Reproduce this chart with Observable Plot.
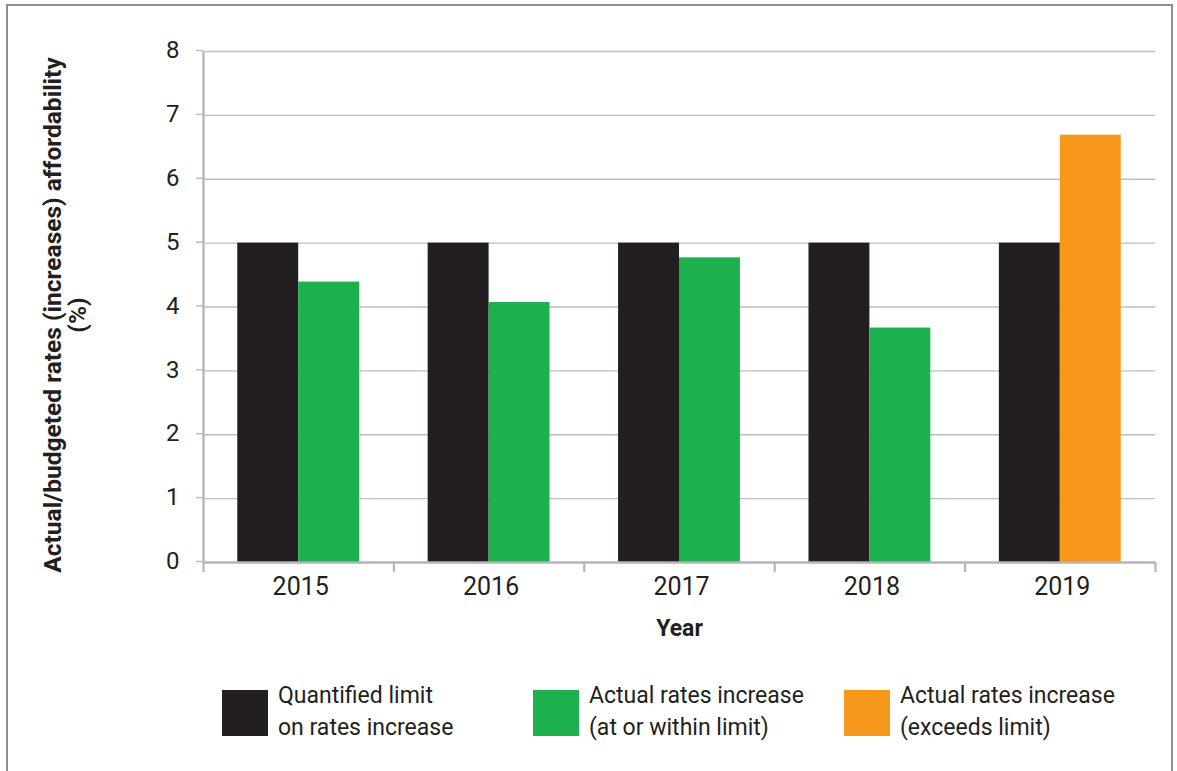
<!DOCTYPE html>
<html>
<head>
<meta charset="utf-8">
<script src="https://cdn.jsdelivr.net/npm/d3@7"></script>
<script src="https://cdn.jsdelivr.net/npm/@observablehq/plot@0.6"></script>
<style>
  html, body { margin: 0; padding: 0; background: #fff; overflow: hidden; }
  body { width: 1177px; height: 771px; position: relative; font-family: Roboto, sans-serif; color: #231f20; }
  #frame { position: absolute; left: 6px; top: 4px; width: 1163px; height: 820px; border: 2px solid #8f8f8f; box-sizing: content-box; }
  #chart { position: absolute; left: 0; top: 0; }
  #legend { position: absolute; left: 222px; top: 680px; display: flex; }
  .item { width: 311px; display: flex; align-items: flex-start; }
  .swatch { width: 46px; height: 46px; margin-top: 10px; margin-right: 10px; flex: none; }
  .label { font-size: 23px; line-height: 32px; white-space: pre; color: #231f20; }
</style>
</head>
<body>
<div id="frame"></div>
<div id="chart"></div>
<div id="legend"></div>
<script>
// ---- data ----
const years = [2015, 2016, 2017, 2018, 2019];
const limitValues = [5, 5, 5, 5, 5];
const actualValues = [4.39, 4.07, 4.77, 3.67, 6.69];
const seriesNames = [
  "Quantified limit\non rates increase",
  "Actual rates increase\n(at or within limit)",
  "Actual rates increase\n(exceeds limit)"
];
const seriesColors = ["#231f20", "#1db04e", "#f7981d"];
const yTicks = [0, 1, 2, 3, 4, 5, 6, 7, 8];
const yTitle = "Actual/budgeted rates (increases) affordability\n(%)";
const xTitle = "Year";

// ---- table built from the arrays ----
const rows = [];
years.forEach((year, i) => {
  rows.push({year, slot: "limit", value: limitValues[i], series: seriesNames[0]});
  rows.push({year, slot: "actual", value: actualValues[i],
    series: actualValues[i] > limitValues[i] ? seriesNames[2] : seriesNames[1]});
});
const boundaries = years.map(y => y - 0.5).concat([years[years.length - 1] + 0.5]);

const barW = 0.32;
const gridColor = "#bcbec0";
const axisColor = "#b3b5b8";
const ink = "#231f20";

const chart = Plot.plot({
  width: 1177,
  height: 660,
  marginLeft: 203,
  marginRight: 22,
  marginTop: 51,
  marginBottom: 98,
  style: {fontFamily: "Roboto, sans-serif", color: ink, background: "transparent"},
  x: {type: "linear", domain: [boundaries[0], boundaries[boundaries.length - 1]]},
  y: {domain: [0, 8]},
  color: {domain: seriesNames, range: seriesColors},
  marks: [
    Plot.ruleY(yTicks.filter(t => t > 0), {stroke: gridColor, strokeWidth: 1.4}),
    Plot.rect(rows, {
      x1: d => d.slot === "limit" ? d.year - barW : d.year,
      x2: d => d.slot === "limit" ? d.year : d.year + barW,
      y1: d => 0,
      y2: "value",
      fill: "series"
    }),
    Plot.ruleX([boundaries[0]], {stroke: axisColor, strokeWidth: 2.3}),
    Plot.ruleY([0], {stroke: axisColor, strokeWidth: 2.6}),
    Plot.axisY({ticks: yTicks, tickSize: 7, tickPadding: 17, stroke: gridColor, strokeWidth: 1.5,
      fill: ink, fontSize: 24, label: null, tickFormat: d => String(d), dy: -1}),
    Plot.axisX({ticks: boundaries, tickSize: 10, tickFormat: () => "", stroke: axisColor, strokeWidth: 2.2, label: null}),
    Plot.axisX({ticks: years, tickSize: 0, tickPadding: 15, tickFormat: d => String(d),
      fill: ink, fontSize: 25, label: null, dx: 2}),
    Plot.text([yTitle], {text: d => d, frameAnchor: "left", textAnchor: "middle", lineAnchor: "middle",
      rotate: -90, dx: -138, dy: 8,
      fontSize: 24.5, fontWeight: "bold", lineHeight: 1.0, fill: ink}),
    Plot.text([xTitle], {text: d => d, frameAnchor: "bottom", dy: 66, lineAnchor: "middle",
      fontSize: 23, fontWeight: "bold", fill: ink})
  ]
});
document.getElementById("chart").appendChild(chart);

// ---- legend ----
const legend = document.getElementById("legend");
seriesNames.forEach((name, i) => {
  const item = document.createElement("div");
  item.className = "item";
  const sw = document.createElement("div");
  sw.className = "swatch";
  sw.style.background = seriesColors[i];
  const lab = document.createElement("div");
  lab.className = "label";
  lab.textContent = name;
  item.appendChild(sw);
  item.appendChild(lab);
  legend.appendChild(item);
});
</script>
</body>
</html>
